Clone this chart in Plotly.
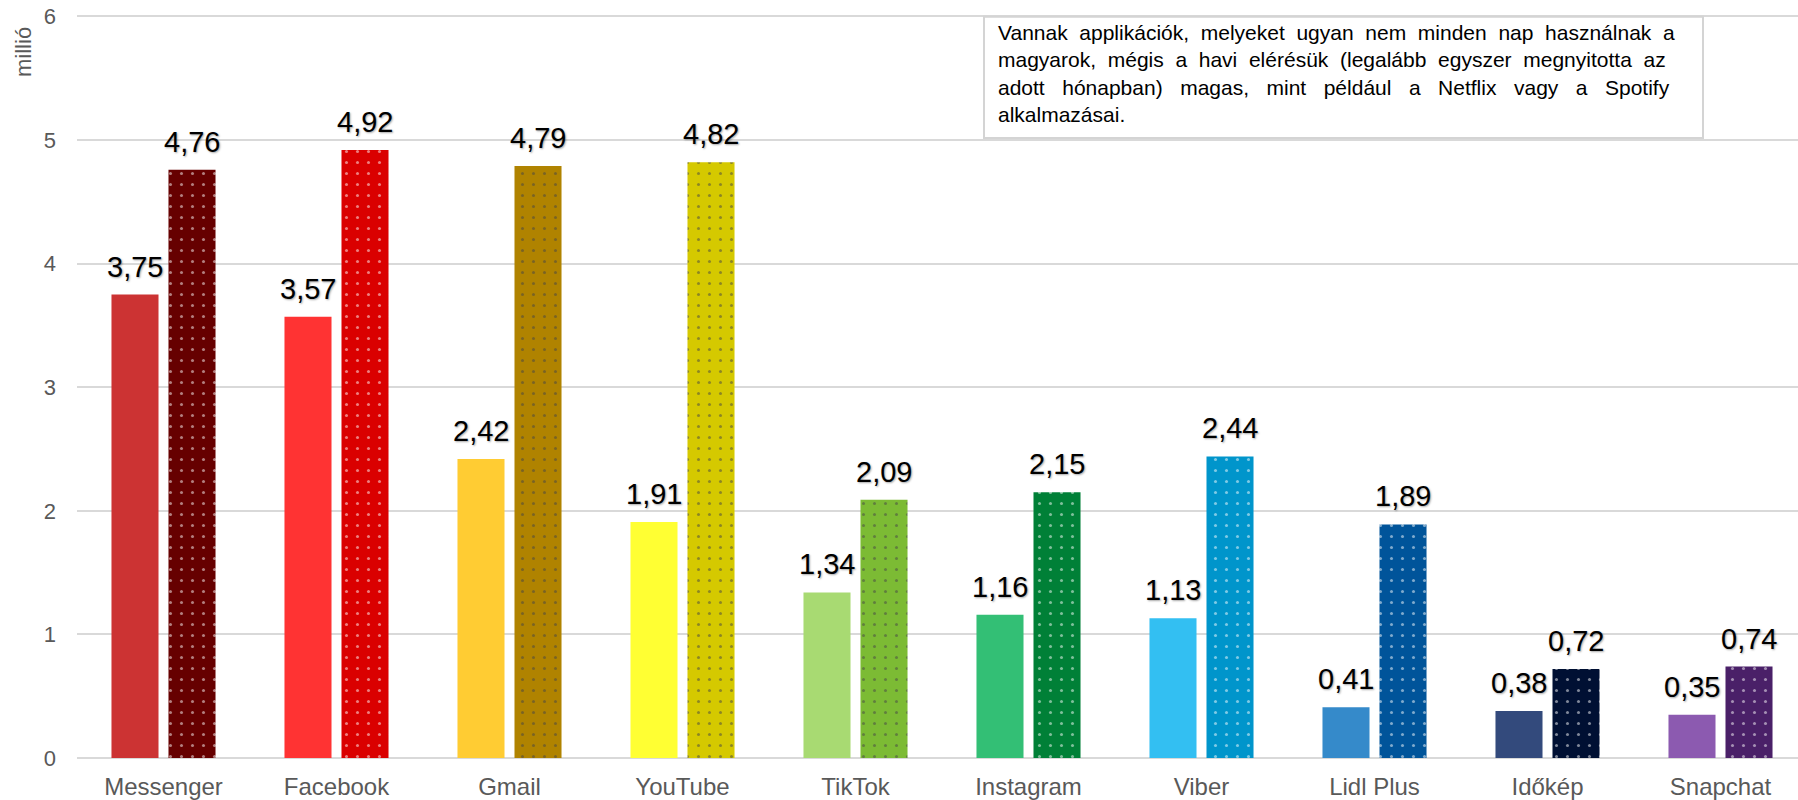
import plotly.graph_objects as go

categories = ["Messenger", "Facebook", "Gmail", "YouTube", "TikTok", "Instagram",
              "Viber", "Lidl Plus", "Időkép", "Snapchat"]
daily_values = [3.75, 3.57, 2.42, 1.91, 1.34, 1.16, 1.13, 0.41, 0.38, 0.35]
monthly_values = [4.76, 4.92, 4.79, 4.82, 2.09, 2.15, 2.44, 1.89, 0.72, 0.74]
light_colors = ["#CC3333", "#FF3333", "#FFCC33", "#FFFF33", "#A8DA72", "#33BF75",
                "#33BFF2", "#358ACA", "#334A7C", "#8C5AB0"]
dark_colors = ["#660000", "#DA0000", "#B08300", "#D5C900", "#7CBB34", "#008037",
               "#0095CB", "#00549A", "#001033", "#4A2068"]
y_ticks = [0, 1, 2, 3, 4, 5, 6]
note_lines = [
    ("Vannak applikációk, melyeket ugyan nem minden nap használnak a", 1),
    ("magyarok, mégis a havi elérésük (legalább egyszer megnyitotta az", 1),
    ("adott hónapban) magas, mint például a Netflix vagy a Spotify", 2),
    ("alkalmazásai.", 0),
]

def fmt(v):
    return f"{v:.2f}".replace(".", ",")

def justify(line, extra):
    return line.replace(" ", " " + "&nbsp;" * extra)

note_text = "<br>".join(justify(t, e) for t, e in note_lines)

W, H = 1807, 800
ML, MR, MT, MB = 77, 0, 14, 42
PW, PH = W - ML - MR, H - MT - MB

def px_x(p):
    return (p - ML) / PW

def px_y(p):
    return 1 - (p - MT) / PH

fig = go.Figure()
fig.add_trace(go.Bar(x=categories, y=daily_values, marker=dict(color=light_colors, line_width=0),
                     name="napi", hoverinfo="skip"))
fig.add_trace(go.Bar(x=categories, y=monthly_values,
                     marker=dict(color=dark_colors, line_width=0,
                                 pattern=dict(shape=".", fgcolor="white", size=11, solidity=0.06,
                                              fillmode="overlay")),
                     name="havi", hoverinfo="skip"))

label_font = dict(family="Liberation Sans, Arial, sans-serif", size=29, color="#000000",
                  shadow="1px 1px 2px rgba(0,0,0,0.35)")
for c, v in zip(categories, daily_values):
    fig.add_annotation(x=c, y=v, text=fmt(v), showarrow=False, xref="x", yref="y",
                       xshift=-28.5, yshift=10, yanchor="bottom", font=label_font)
for c, v in zip(categories, monthly_values):
    fig.add_annotation(x=c, y=v, text=fmt(v), showarrow=False, xref="x", yref="y",
                       xshift=28.5, yshift=10, yanchor="bottom", font=label_font)

# note box
fig.add_shape(type="rect", xref="paper", yref="paper",
              x0=px_x(984), x1=px_x(1703), y0=px_y(138), y1=px_y(16.7),
              line=dict(color="#D4D4D4", width=2), fillcolor="white", layer="above")
fig.add_annotation(xref="paper", yref="paper", x=px_x(996), y=px_y(73),
                   xanchor="left", yanchor="middle", text=note_text, showarrow=False,
                   align="left",
                   font=dict(family="Liberation Sans, Arial, sans-serif", size=21, color="#000000"))

fig.add_annotation(xref="paper", yref="paper", x=px_x(24), y=px_y(52),
                   xanchor="center", yanchor="middle", text="millió", textangle=-90,
                   showarrow=False,
                   font=dict(family="Liberation Sans, Arial, sans-serif", size=22, color="#595959"))

fig.update_layout(
    width=W, height=H,
    margin=dict(l=ML, r=MR, t=MT, b=MB),
    plot_bgcolor="white", paper_bgcolor="white",
    barmode="group", bargap=0.341, bargroupgap=0.175,
    showlegend=False,
    font=dict(family="Liberation Sans, Arial, sans-serif", size=22, color="#595959"),
)
fig.update_yaxes(range=[0, 6.02], tickvals=y_ticks, showgrid=True, gridcolor="#D9D9D9", gridwidth=2,
                 zeroline=True, zerolinecolor="#D9D9D9", zerolinewidth=2, showline=False,
                 ticks="", ticklabelstandoff=20,
                 tickfont=dict(size=22, color="#595959"))
fig.update_xaxes(showline=False, ticks="", ticklabelstandoff=12,
                 tickfont=dict(size=24, color="#595959"))

fig.write_html("out.html", config={"displayModeBar": False},
               post_script="document.body.style.margin='0';document.body.style.overflow='hidden';")
